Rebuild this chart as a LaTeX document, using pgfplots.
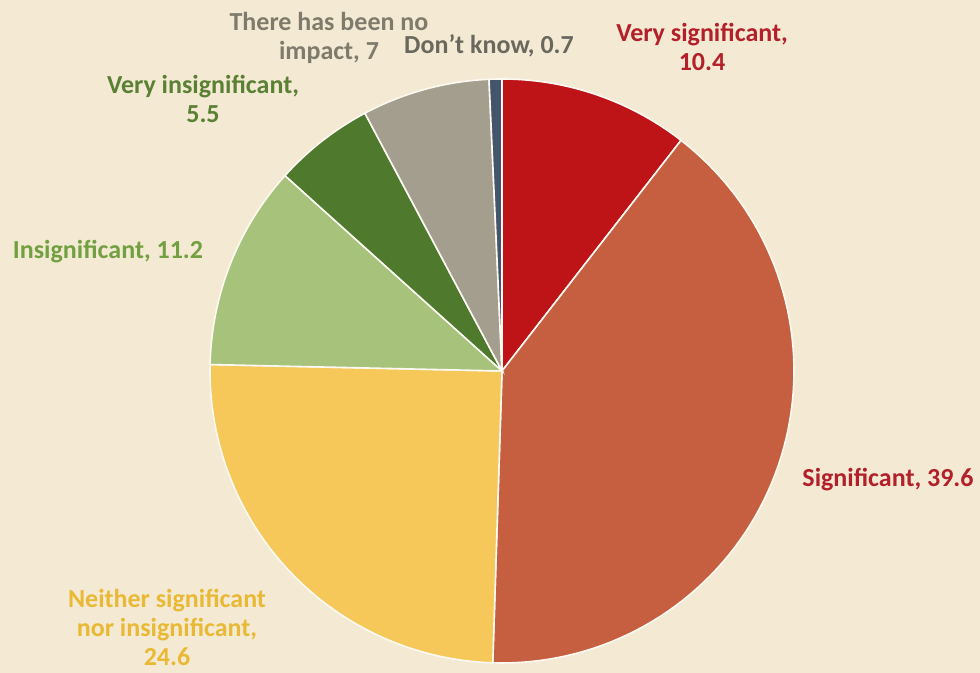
\documentclass[border=0pt]{standalone}
\usepackage{pgfplots}
\pgfplotsset{compat=1.18}
\usepackage{fontspec}
\setmainfont{Carlito}
\definecolor{bg}{HTML}{F4EAD3}
\definecolor{cVS}{HTML}{BE1418}
\definecolor{cS}{HTML}{C55F40}
\definecolor{cN}{HTML}{F6C85A}
\definecolor{cI}{HTML}{A7C27B}
\definecolor{cVI}{HTML}{4F7A2D}
\definecolor{cNI}{HTML}{A39E8E}
\definecolor{cDK}{HTML}{44546A}
\definecolor{tVS}{HTML}{B3202A}
\definecolor{tN}{HTML}{E9B935}
\definecolor{tI}{HTML}{72A040}
\definecolor{tVI}{HTML}{5A8034}
\definecolor{tNI}{HTML}{7F7B6C}
\definecolor{tDK}{HTML}{6A685E}
\tikzset{lbl/.style={font=\fontsize{13}{14.5}\selectfont\bfseries, align=center, inner sep=0pt}}
% total of the shares (Excel normalises to it)
\def\total{99}
\def\cx{502}
\def\cy{-371}
\def\rad{292}
\newcommand{\slice}[3]{% #1 cumulative start, #2 value, #3 colour
  \pgfmathsetmacro{\angA}{90-(#1+#2)/\total*360}%
  \pgfmathsetmacro{\angB}{90-(#1)/\total*360}%
  \addplot[fill=#3, draw=white!70!bg, line width=0.8pt, domain=\angA:\angB, samples=80, variable=\t]
    ({\cx+\rad*cos(\t)}, {\cy+\rad*sin(\t)}) -- (axis cs:\cx,\cy) -- cycle;
}
\begin{document}
\begin{tikzpicture}
\begin{axis}[
  x=0.5pt, y=0.5pt,
  xmin=0, xmax=980, ymin=-673, ymax=0,
  hide axis, clip=false, scale only axis,
]
\fill[bg] (rel axis cs:0,0) rectangle (rel axis cs:1,1);
% values: Very significant 10.4, Significant 39.6, Neither 24.6,
% Insignificant 11.2, Very insignificant 5.5, No impact 7, Don't know 0.7
\slice{0}{10.4}{cVS}
\slice{10.4}{39.6}{cS}
\slice{50.0}{24.6}{cN}
\slice{74.6}{11.2}{cI}
\slice{85.8}{5.5}{cVI}
\slice{91.3}{7}{cNI}
\slice{98.3}{0.7}{cDK}
\node[lbl, text=tVS] at (axis cs:702,-47) {Very significant,\\10.4};
\node[lbl, text=tVS] at (axis cs:888,-480) {Significant, 39.6};
\node[lbl, text=tN] at (axis cs:167,-627) {Neither significant\\nor insignificant,\\24.6};
\node[lbl, text=tI] at (axis cs:108,-252) {Insignificant, 11.2};
\node[lbl, text=tVI] at (axis cs:203,-99) {Very insignificant,\\5.5};
\node[lbl, text=tNI] at (axis cs:329,-38) {There has been no\\impact, 7};
\node[lbl, text=tDK] at (axis cs:489,-46) {Don{\char"0027}t know, 0.7};
\end{axis}
\end{tikzpicture}
\end{document}
